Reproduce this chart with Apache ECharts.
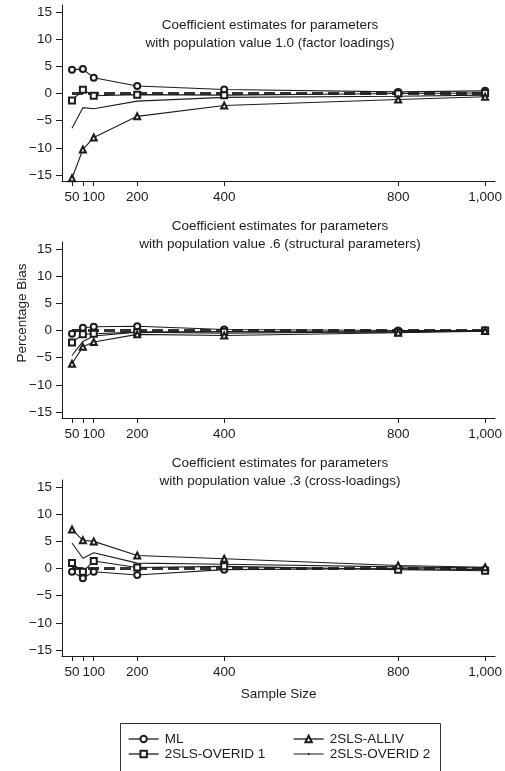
<!DOCTYPE html>
<html>
<head>
<meta charset="utf-8">
<script src="https://cdn.jsdelivr.net/npm/echarts@6/dist/echarts.min.js"></script>
<style>
  html, body { margin: 0; padding: 0; background: #fff; }
  #chart { width: 505px; height: 771px; }
</style>
</head>
<body>
<div id="chart"></div>
<script>
// Sample sizes used in the simulation (x axis)
const sampleSizes = [50, 75, 100, 200, 400, 800, 1000];
const xTickValues = [50, 75, 100, 200, 400, 800, 1000];
const xLabelValues = [50, 100, 200, 400, 800, 1000];
const yTickValues = [-15, -10, -5, 0, 5, 10, 15];

const seriesNames = ['ML', '2SLS-OVERID 1', '2SLS-ALLIV', '2SLS-OVERID 2'];
const panelTitles = [
  'Coefficient estimates for parameters\nwith population value 1.0 (factor loadings)',
  'Coefficient estimates for parameters\nwith population value .6 (structural parameters)',
  'Coefficient estimates for parameters\nwith population value .3 (cross-loadings)'
];

// Percentage bias, population value 1.0 (factor loadings)
const loadingsML      = [4.4, 4.5, 2.9, 1.4, 0.75, 0.3, 0.5];
const loadingsOverid1 = [-1.3, 0.7, -0.4, -0.2, -0.3, 0.0, 0.1];
const loadingsAlliv   = [-15.6, -10.3, -8.1, -4.2, -2.2, -1.1, -0.6];
const loadingsOverid2 = [-6.4, -2.6, -2.8, -1.4, -0.7, -0.5, -0.3];

// Percentage bias, population value .6 (structural parameters)
const structML      = [-0.6, 0.5, 0.7, 0.8, 0.2, 0.0, 0.0];
const structOverid1 = [-2.2, -0.7, -0.6, -0.3, -0.2, -0.3, 0.0];
const structAlliv   = [-6.1, -3.0, -2.1, -0.7, -0.9, -0.4, -0.1];
const structOverid2 = [-4.6, -2.0, -1.0, -0.3, -0.5, -0.2, 0.0];

// Percentage bias, population value .3 (cross-loadings)
const crossML      = [-0.6, -1.8, -0.6, -1.2, -0.2, 0.0, -0.2];
const crossOverid1 = [1.0, -0.6, 1.4, 0.2, 0.4, -0.2, -0.4];
const crossAlliv   = [7.2, 5.2, 5.0, 2.4, 1.8, 0.55, 0.25];
const crossOverid2 = [4.7, 1.9, 2.9, 1.0, 0.8, 0.3, 0.1];

// Zero-bias reference level
const populationBias = 0;

const panels = [
  [loadingsML, loadingsOverid1, loadingsAlliv, loadingsOverid2],
  [structML, structOverid1, structAlliv, structOverid2],
  [crossML, crossOverid1, crossAlliv, crossOverid2]
];

const FONT = '"Liberation Sans", Arial, Helvetica, sans-serif';
const FS = 13.5;
const INK = '#1c1c1c';
const symbols = ['emptyCircle', 'emptyRect', 'emptyTriangle', 'none'];
const gridTops = [5, 242, 480];
const GRID_H = 176;
// legend key for the unmarked line: a thin 30-wide stroke with a small centre dot
const PLAIN_LINE_ICON = 'path://M0,0L0.01,0M0,3.4h30v1.2h-30zM14.2,3h1.6v2h-1.6zM30,8L29.99,8';

const grids = gridTops.map(t => ({ left: 62, right: 7, top: t, height: GRID_H }));

const xAxes = gridTops.map((t, i) => ({
  type: 'value', gridIndex: i, min: 27, max: 1023,
  splitLine: { show: false },
  axisLine: { onZero: false, lineStyle: { color: INK, width: 1 } },
  axisTick: { customValues: xTickValues, length: 5, lineStyle: { color: INK } },
  axisLabel: {
    customValues: xLabelValues, margin: 9, color: INK, fontFamily: FONT, fontSize: FS,
    formatter: v => Number(v).toLocaleString('en-US')
  },
  name: i === 2 ? 'Sample Size' : '',
  nameLocation: 'middle', nameGap: 31,
  nameTextStyle: { color: INK, fontFamily: FONT, fontSize: FS }
}));

const yAxes = gridTops.map((t, i) => ({
  type: 'value', gridIndex: i, min: -16.1, max: 16.3,
  splitLine: { show: false },
  axisLine: { show: true, onZero: false, lineStyle: { color: INK, width: 1 } },
  axisTick: { customValues: yTickValues, length: 6, lineStyle: { color: INK } },
  axisLabel: {
    customValues: yTickValues, margin: 10, color: INK, fontFamily: FONT, fontSize: FS,
    formatter: v => (v < 0 ? '\u2212' + Math.abs(v) : String(v))
  }
}));

const series = [];
panels.forEach((panel, p) => {
  // dashed zero-bias reference line
  series.push({
    type: 'line', name: 'reference', xAxisIndex: p, yAxisIndex: p,
    data: sampleSizes.map(n => [n, populationBias]),
    symbol: 'none', silent: true, z: 1,
    lineStyle: { color: '#333', width: 3, type: [11, 5] }
  });
  panel.forEach((vals, k) => {
    series.push({
      type: 'line', name: seriesNames[k], xAxisIndex: p, yAxisIndex: p,
      data: sampleSizes.map((n, j) => [n, vals[j]]),
      symbol: symbols[k], symbolSize: 6, showSymbol: symbols[k] !== 'none',
      z: 3,
      lineStyle: { color: INK, width: 1.1 },
      itemStyle: { color: INK, borderColor: INK, borderWidth: 1 }
    });
  });
});

const legendCommon = {
  orient: 'vertical', top: 727, itemWidth: 30, itemHeight: 8, itemGap: 1,
  textStyle: { color: INK, fontFamily: FONT, fontSize: FS, lineHeight: 14, padding: [0, 0, 0, 1] },
  lineStyle: { width: 1.3, color: INK },
  selectedMode: false
};

const chart = echarts.init(document.getElementById('chart'), null, { renderer: 'canvas' });
chart.setOption({
  backgroundColor: '#fff',
  animation: false,
  title: panelTitles.map((txt, i) => ({
    text: txt, left: i === 0 ? 270 : 280, textAlign: 'center',
    top: [16, 217, 454][i], padding: 0,
    textStyle: { color: INK, fontFamily: FONT, fontSize: FS, fontWeight: 'normal', lineHeight: 18 }
  })),
  grid: grids,
  xAxis: xAxes,
  yAxis: yAxes,
  legend: [
    Object.assign({ left: 123, data: ['ML', '2SLS-OVERID 1'] }, legendCommon),
    Object.assign({ left: 288, data: [
      '2SLS-ALLIV',
      { name: '2SLS-OVERID 2', icon: PLAIN_LINE_ICON, itemStyle: { borderWidth: 0, color: INK } }
    ] }, legendCommon)
  ],
  graphic: [
    {
      type: 'text', x: 22, y: 313, rotation: Math.PI / 2,
      style: { text: 'Percentage Bias', fill: INK, font: FS + 'px ' + FONT, textAlign: 'center', textVerticalAlign: 'middle' }
    },
    {
      type: 'rect', shape: { x: 120.5, y: 723.5, width: 320, height: 70 },
      style: { fill: 'none', stroke: '#333', lineWidth: 1 }, z: 0
    }
  ],
  series: series
});
</script>
</body>
</html>
